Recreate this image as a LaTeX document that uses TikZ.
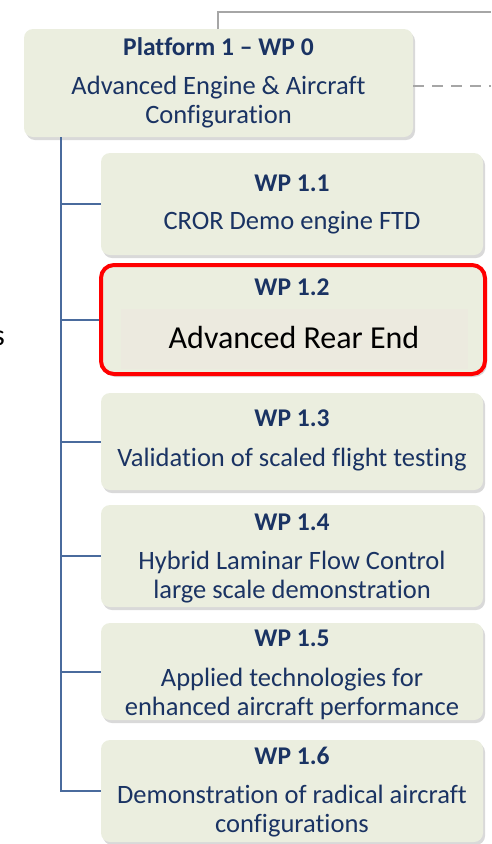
\documentclass[tikz,border=0pt]{standalone}
\usepackage{fontspec}
\setmainfont{Carlito}[Ligatures=NoCommon]
\usetikzlibrary{calc,shadows}
\definecolor{wpfill}{HTML}{EBEEDF}
\definecolor{wpinner}{HTML}{ECEADF}
\definecolor{wptext}{HTML}{1A3363}
\definecolor{wpline}{HTML}{4A6B9D}
\definecolor{wpgray}{HTML}{A6A6A6}
\begin{document}
\begin{tikzpicture}[x=1pt,y=-1pt,
        %% boxes of the work breakdown
        wpbox/.style={fill=wpfill, rounded corners=9pt, inner sep=0pt,
            drop shadow={shadow xshift=2pt, shadow yshift=-3pt, opacity=0.3}},
        wptitle/.style={font=\bfseries\fontsize{25.5}{30}\selectfont, text=wptext},
        wpdesc/.style={font=\fontsize{26.5}{29}\selectfont, text=wptext, align=center},
        tree line/.style={wpline, line width=2pt},
        link line/.style={wpgray, line width=2.5pt}
    ]
    \useasboundingbox (0,0) rectangle (491,844);
    %% upper level
    \node[wpbox, minimum width=389pt, minimum height=108pt] (p0) at (218.5,83) {};
    \node[wptitle] (p0title) at (218.5,47) {Platform 1 -- WP 0};
    \node[wpdesc] (p0desc) at (218.5,102.5) {Advanced Engine \& Aircraft\\Configuration};
    % links to the rest of the chart
    \coordinate (gtop) at (218,29);
    \coordinate (gend) at (491,12);
    \coordinate (dend) at (491,86);
    \draw[link line] (gtop) |- (gend);
    \draw[link line, dash pattern=on 11pt off 8pt] (p0.east |- dend) -- (dend);
    %
    \node[anchor=east, inner sep=0pt, font=\fontsize{30}{34}\selectfont] (cut) at (5,338) {s};
    %% work packages
    \foreach \n/\top/\bot/\ty/\dy/\title/\desc in {%
        11/153/255/183/223/{WP 1.1}/{CROR Demo engine FTD},
        13/393/490/418/460/{WP 1.3}/{Validation of scaled flight testing},
        14/505/607/522/577/{WP 1.4}/{Hybrid Laminar Flow Control\\large scale demonstration},
        15/623/720/638/693.5/{WP 1.5}/{Applied technologies for\\enhanced aircraft performance},
        16/740/842/756/811.5/{WP 1.6}/{Demonstration of radical aircraft\\configurations}}{
        \node[wpbox, minimum width=382pt, minimum height=\bot pt-\top pt]
            (wp\n) at (292,{(\top+\bot)/2}) {};
        \node[wptitle] (wp\n title) at (292,\ty) {\title};
        \node[wpdesc] (wp\n desc) at (292,\dy) {\desc};
    }
    % the highlighted one
    \node[wpbox, draw=red, line width=4pt, rounded corners=13pt,
        minimum width=384pt, minimum height=109pt] (wp12) at (293,319.5) {};
    \fill[wpinner] (121,309) rectangle (468,369);
    \node[wptitle] (wp12title) at (292,287) {WP 1.2};
    \node[font=\fontsize{32}{36}\selectfont] (wp12desc) at (294,338) {Advanced Rear End};
    %% tree
    \coordinate (spine) at (61,137);
    \foreach \n in {11,12,13,14,15,16}
        \draw[tree line] (spine) |- (wp\n.west);
\end{tikzpicture}
\end{document}
